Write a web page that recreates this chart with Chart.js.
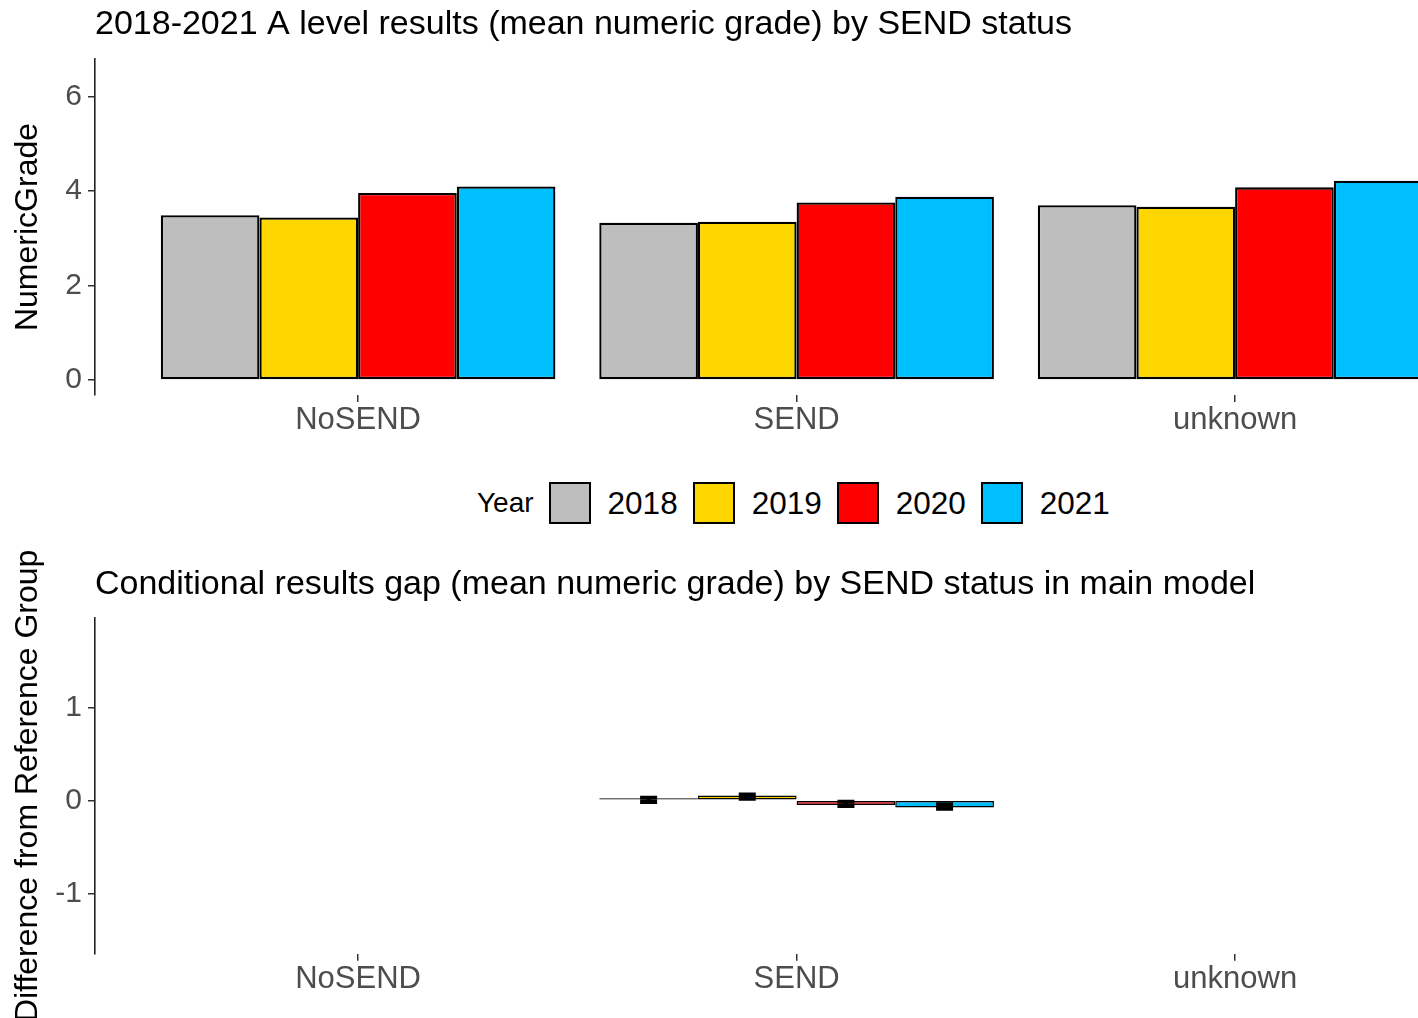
<!DOCTYPE html>
<html>
<head>
<meta charset="utf-8">
<script src="https://cdn.jsdelivr.net/npm/chart.js@4"></script>
<style>
  html, body { margin: 0; padding: 0; background: #fff; }
  #page { position: relative; width: 1418px; height: 1018px; overflow: hidden; font-family: 'Liberation Sans', Arial, sans-serif; }
  .panel { position: absolute; left: 0; width: 1418px; }
  #legend { position: absolute; left: 477px; top: 482px; height: 42px; display: flex; align-items: center; }
  #legend .title { font-size: 28px; margin-right: 15px; color: #000; }
  #legend .key { width: 42px; height: 42px; box-sizing: border-box; border: 2px solid #000; margin-right: 17px; }
  #legend .lab { font-size: 31.5px; margin-right: 15px; color: #000; }
</style>
</head>
<body>
<div id="page">
  <div class="panel" style="top:0;height:450px"><canvas id="gradeChart"></canvas></div>
  <div id="legend"><span class="title">Year</span></div>
  <div class="panel" style="top:540px;height:478px"><canvas id="gapChart"></canvas></div>
</div>
<script>
// categories and years
const groups = ['NoSEND', 'SEND', 'unknown'];
const years = ['2018', '2019', '2020', '2021'];

// mean numeric grade per group (NoSEND, SEND, unknown)
const grade2018 = [3.49, 3.33, 3.70];
const grade2019 = [3.44, 3.35, 3.67];
const grade2020 = [3.96, 3.76, 4.08];
const grade2021 = [4.10, 3.88, 4.22];

// conditional gap from reference group (only SEND estimated)
const gap2018 = [null, 0.005, null];
const gap2019 = [null, 0.05, null];
const gap2020 = [null, -0.052, null];
const gap2021 = [null, -0.078, null];

// error bar limits for the gap
const gapLow2018 = [null, -0.018, null];
const gapHigh2018 = [null, 0.028, null];
const gapLow2019 = [null, 0.017, null];
const gapHigh2019 = [null, 0.063, null];
const gapLow2020 = [null, -0.061, null];
const gapHigh2020 = [null, -0.015, null];
const gapLow2021 = [null, -0.09, null];
const gapHigh2021 = [null, -0.044, null];

// tick labels
const gradeTicks = [0, 2, 4, 6];
const gapTicks = [-1, 0, 1];

const yearColors = ['#BEBEBE', '#FFD700', '#FF0000', '#00BFFF'];
const FONT = "'Liberation Sans', Arial, sans-serif";

Chart.defaults.font.family = FONT;

// legend
const legendEl = document.getElementById('legend');
years.forEach((y, i) => {
    const key = document.createElement('span');
    key.className = 'key';
    key.style.background = yearColors[i];
    const lab = document.createElement('span');
    lab.className = 'lab';
    lab.textContent = y;
    legendEl.appendChild(key);
    legendEl.appendChild(lab);
});

// panel title + rotated y label, drawn at the plot's left edge
const panelText = {
    id: 'panelText',
    afterDraw(chart, args, opts) {
        const ctx = chart.ctx;
        const area = chart.chartArea;
        ctx.save();
        ctx.fillStyle = '#000';
        ctx.font = opts.titleSize + 'px ' + FONT;
        ctx.textBaseline = 'alphabetic';
        ctx.textAlign = 'left';
        ctx.fillText(opts.title, area.left, opts.titleY);
        ctx.translate(opts.labelX, (area.top + area.bottom) / 2);
        ctx.rotate(-Math.PI / 2);
        ctx.textAlign = 'center';
        ctx.textBaseline = 'middle';
        ctx.font = opts.labelSize + 'px ' + FONT;
        ctx.fillText(opts.label, 0, 0);
        ctx.restore();
    }
};

// error bars for the gap chart
const errorBars = {
    id: 'errorBars',
    afterDatasetsDraw(chart, args, opts) {
        if (!opts.low) return;
        const ctx = chart.ctx;
        const yScale = chart.scales.y;
        ctx.save();
        ctx.strokeStyle = '#000';
        ctx.lineWidth = 4;
        chart.data.datasets.forEach((ds, i) => {
            const meta = chart.getDatasetMeta(i);
            meta.data.forEach((bar, j) => {
                const lo = opts.low[i][j];
                const hi = opts.high[i][j];
                if (lo === null || hi === null) return;
                const yl = yScale.getPixelForValue(lo);
                const yh = yScale.getPixelForValue(hi);
                const half = 8.5;
                ctx.beginPath();
                ctx.moveTo(bar.x - half, yh); ctx.lineTo(bar.x + half, yh);
                ctx.moveTo(bar.x - half, yl); ctx.lineTo(bar.x + half, yl);
                ctx.moveTo(bar.x, yh); ctx.lineTo(bar.x, yl);
                ctx.stroke();
            });
        });
        ctx.restore();
    }
};

function toPoints(values) {
    return values.map((v, i) => ({ x: i + 1, y: v }));
}

function makeDatasets(series, border) {
    return series.map((values, i) => ({
        label: years[i],
        data: toPoints(values),
        backgroundColor: yearColors[i],
        borderColor: '#000',
        borderWidth: border,
        borderSkipped: false,
        minBarLength: 2,
        categoryPercentage: 0.9,
        barPercentage: 1
    }));
}

function xAxis(height) {
    return {
        type: 'linear',
        min: 0.4,
        max: 0.4 + (1418 - 95) / 438.5,
        offset: false,
        afterBuildTicks: s => { s.ticks = groups.map((g, i) => ({ value: i + 1 })); },
        afterFit: s => { s.height = height; },
        ticks: {
            callback: v => groups[v - 1],
            color: '#4D4D4D',
            font: { size: 31 },
            padding: 0,
            maxRotation: 0,
            autoSkip: false
        },
        grid: { display: true, offset: false, drawOnChartArea: false, drawTicks: true, tickLength: 7, color: '#333', lineWidth: 1.5 },
        border: { display: false }
    };
}

function yAxis(min, max, tickValues) {
    return {
        min: min,
        max: max,
        afterBuildTicks: s => { s.ticks = tickValues.map(v => ({ value: v })); },
        afterFit: s => { s.width = 95; },
        ticks: {
            callback: v => String(v),
            color: '#4D4D4D',
            font: { size: 30 },
            padding: 6
        },
        grid: { display: true, drawOnChartArea: false, drawTicks: true, tickLength: 7, color: '#333', lineWidth: 1.5 },
        border: { display: true, color: '#222', width: 1.6 }
    };
}

// top panel: mean numeric grade
new Chart(document.getElementById('gradeChart'), {
    type: 'bar',
    data: { datasets: makeDatasets([grade2018, grade2019, grade2020, grade2021], 2.3) },
    options: {
        responsive: true,
        maintainAspectRatio: false,
        animation: false,
        layout: { padding: { top: 59, left: 0, right: 0, bottom: 0 } },
        scales: {
            x: xAxis(55),
            y: yAxis(-0.32, 6.8, gradeTicks)
        },
        plugins: {
            legend: { display: false },
            tooltip: { enabled: false },
            panelText: {
                title: '2018-2021 A level results (mean numeric grade) by SEND status',
                titleSize: 34,
                titleY: 34,
                label: 'NumericGrade',
                labelSize: 32,
                labelX: 28
            }
        }
    },
    plugins: [panelText]
});

// bottom panel: conditional gap with error bars
new Chart(document.getElementById('gapChart'), {
    type: 'bar',
    data: { datasets: makeDatasets([gap2018, gap2019, gap2020, gap2021], 1.5) },
    options: {
        responsive: true,
        maintainAspectRatio: false,
        animation: false,
        layout: { padding: { top: 78, left: 0, right: 0, bottom: 0 } },
        scales: {
            x: xAxis(64.3),
            y: yAxis(-1.65, 1.96, gapTicks)
        },
        plugins: {
            legend: { display: false },
            tooltip: { enabled: false },
            panelText: {
                title: 'Conditional results gap (mean numeric grade) by SEND status in main model',
                titleSize: 34,
                titleY: 54,
                label: 'Difference from Reference Group',
                labelSize: 32,
                labelX: 28
            },
            errorBars: {
                low: [gapLow2018, gapLow2019, gapLow2020, gapLow2021],
                high: [gapHigh2018, gapHigh2019, gapHigh2020, gapHigh2021]
            }
        }
    },
    plugins: [panelText, errorBars]
});
</script>
</body>
</html>
